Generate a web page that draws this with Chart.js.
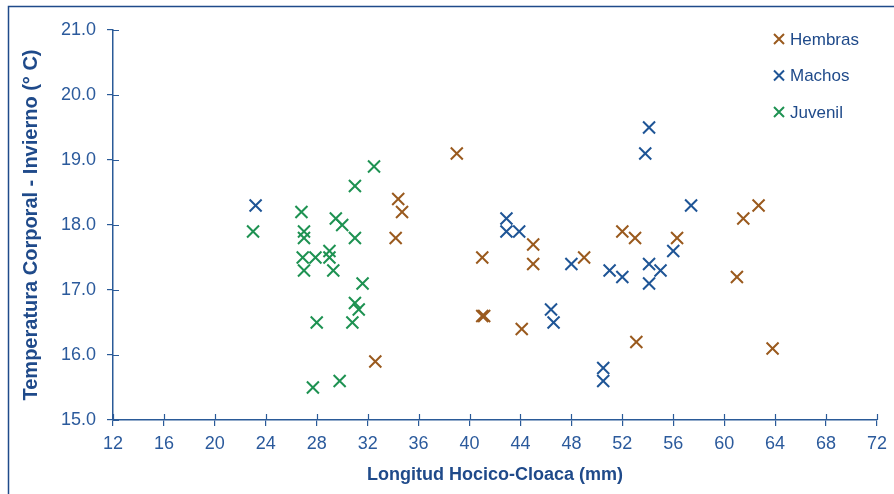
<!DOCTYPE html>
<html>
<head>
<meta charset="utf-8">
<script src="https://cdn.jsdelivr.net/npm/chart.js@4.4.1/dist/chart.umd.min.js"></script>
<style>
  html, body { margin: 0; padding: 0; background: #fff; }
  #wrap { width: 894px; height: 494px; }
</style>
</head>
<body>
<div id="wrap"><canvas id="chart" width="894" height="494"></canvas></div>
<script>
// Longitud hocico-cloaca (mm) vs temperatura corporal en invierno
const hembrasX = [32.6, 34.4, 34.7, 34.2, 39.0, 41.0, 41.0, 41.15, 44.1, 45.0, 45.0, 49.0, 52.0, 53.0, 53.1, 56.3, 61.0, 61.5, 62.7, 63.8];
const hembrasY = [15.9, 18.4, 18.2, 17.8, 19.1, 17.5, 16.6, 16.6, 16.4, 17.7, 17.4, 17.5, 17.9, 17.8, 16.2, 17.8, 17.2, 18.1, 18.3, 16.1];

const machosX = [23.2, 42.9, 42.9, 43.9, 46.4, 46.6, 48.0, 50.5, 50.5, 51.0, 52.0, 53.8, 54.1, 54.1, 54.1, 55.0, 56.0, 57.4];
const machosY = [18.3, 18.1, 17.9, 17.9, 16.7, 16.5, 17.4, 15.8, 15.6, 17.3, 17.2, 19.1, 19.5, 17.4, 17.1, 17.3, 17.6, 18.3];

const juvenilX = [23.0, 26.8, 27.0, 27.0, 26.9, 27.0, 27.9, 29.0, 29.0, 29.3, 29.5, 30.0, 31.0, 31.0, 32.5, 31.6, 31.0, 31.3, 30.8, 28.0, 29.8, 27.7];
const juvenilY = [17.9, 18.2, 17.9, 17.8, 17.5, 17.3, 17.5, 17.6, 17.5, 17.3, 18.1, 18.0, 17.8, 18.6, 18.9, 17.1, 16.8, 16.7, 16.5, 16.5, 15.6, 15.5];

const seriesNames = ["Hembras", "Machos", "Juvenil"];
const seriesColors = ["#9a5a1e", "#1f5596", "#1e9252"];

const navy = "#1f4a8a";
const tickBlue = "#2b5a9c";
const axisBlue = "#2a5a98";

function toPoints(xs, ys) {
  return xs.map((x, i) => ({ x: x, y: ys[i] }));
}

// marco del gráfico (solo izquierda y arriba visibles)
const framePlugin = {
  id: "frame",
  beforeDraw(chart) {
    const ctx = chart.ctx;
    ctx.save();
    ctx.strokeStyle = navy;
    ctx.lineWidth = 1.5;
    ctx.beginPath();
    ctx.moveTo(8.5, 500);
    ctx.lineTo(8.5, 6.5);
    ctx.lineTo(900, 6.5);
    ctx.stroke();
    ctx.restore();
  }
};

// marcas que cruzan el eje (parte interior)
const innerTicks = {
  id: "innerTicks",
  afterDraw(chart) {
    const ctx = chart.ctx;
    const xs = chart.scales.x, ys = chart.scales.y;
    ctx.save();
    ctx.strokeStyle = axisBlue;
    ctx.lineWidth = 1.2;
    ctx.beginPath();
    xs.ticks.forEach(t => {
      const px = Math.round(xs.getPixelForValue(t.value)) + 0.5;
      ctx.moveTo(px, ys.bottom);
      ctx.lineTo(px, ys.bottom - 6);
    });
    ys.ticks.forEach(t => {
      const py = Math.round(ys.getPixelForValue(t.value)) + 0.5;
      ctx.moveTo(xs.left, py);
      ctx.lineTo(xs.left + 6, py);
    });
    ctx.stroke();
    ctx.restore();
  }
};

// leyenda vertical arriba a la derecha
const sideLegend = {
  id: "sideLegend",
  afterDraw(chart) {
    const ctx = chart.ctx;
    ctx.save();
    chart.data.datasets.forEach((ds, i) => {
      const y = 39 + i * 36.5;
      ctx.strokeStyle = ds.borderColor;
      ctx.lineWidth = 2;
      ctx.beginPath();
      ctx.moveTo(774, y - 5); ctx.lineTo(784, y + 5);
      ctx.moveTo(784, y - 5); ctx.lineTo(774, y + 5);
      ctx.stroke();
      ctx.fillStyle = navy;
      ctx.font = "17px 'Liberation Sans', Arial, sans-serif";
      ctx.textBaseline = "middle";
      ctx.textAlign = "left";
      ctx.fillText(ds.label, 790, y + 1);
    });
    ctx.restore();
  }
};

Chart.defaults.font.family = "'Liberation Sans', Arial, sans-serif";

const datasets = [
  toPoints(hembrasX, hembrasY),
  toPoints(machosX, machosY),
  toPoints(juvenilX, juvenilY)
].map((pts, i) => ({
  label: seriesNames[i],
  data: pts,
  pointStyle: "crossRot",
  pointRadius: 8.5,
  pointHoverRadius: 8.5,
  pointBorderWidth: 2,
  borderColor: seriesColors[i],
  backgroundColor: seriesColors[i],
  pointBorderColor: seriesColors[i]
}));

// Juvenil dibujado al fondo, luego Machos y Hembras
datasets[0].order = 1;
datasets[1].order = 2;
datasets[2].order = 3;

new Chart(document.getElementById("chart"), {
  type: "scatter",
  data: { datasets },
  options: {
    responsive: false,
    animation: false,
    devicePixelRatio: 1,
    layout: { padding: { top: 30, right: 17, left: 0, bottom: 0 } },
    plugins: {
      legend: { display: false },
      tooltip: { enabled: false }
    },
    scales: {
      x: {
        type: "linear",
        min: 12,
        max: 72,
        afterFit: s => { s.height = 74; },
        ticks: { stepSize: 4, color: tickBlue, font: { size: 18 }, padding: 7 },
        grid: { drawOnChartArea: false, drawTicks: true, tickLength: 6, color: axisBlue, lineWidth: 1.2 },
        border: { color: axisBlue, width: 1.5 },
        title: {
          display: true,
          text: "Longitud Hocico-Cloaca (mm)",
          color: navy,
          font: { size: 18, weight: "bold" },
          padding: { top: 0, bottom: 8 }
        }
      },
      y: {
        min: 15,
        max: 21,
        afterFit: s => { s.width = 113; },
        ticks: {
          stepSize: 1,
          color: tickBlue,
          font: { size: 18 },
          padding: 11,
          callback: v => v.toFixed(1)
        },
        grid: { drawOnChartArea: false, drawTicks: true, tickLength: 6, color: axisBlue, lineWidth: 1.2 },
        border: { color: axisBlue, width: 1.5 },
        title: {
          display: true,
          text: "Temperatura Corporal - Invierno (° C)",
          color: navy,
          font: { size: 20, weight: "bold" },
          padding: { top: 19, bottom: 0 }
        }
      }
    }
  },
  plugins: [framePlugin, innerTicks, sideLegend]
});
</script>
</body>
</html>
